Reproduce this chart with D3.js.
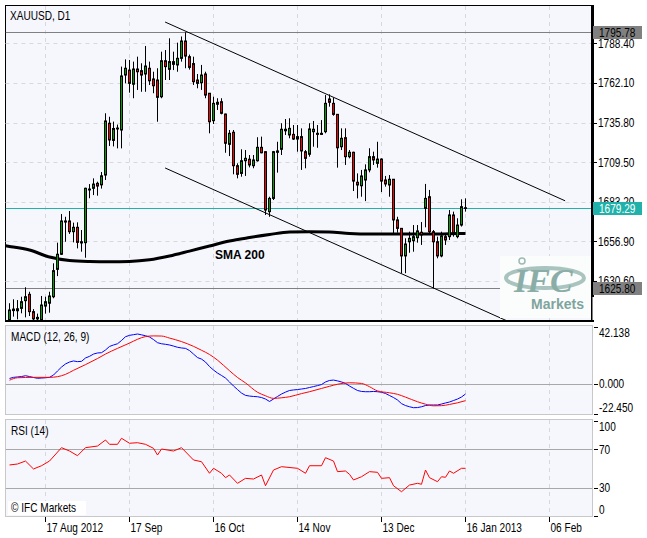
<!DOCTYPE html>
<html>
<head>
<meta charset="utf-8">
<script src="https://cdn.jsdelivr.net/npm/d3@7"></script>
<style>
body { margin: 0; background: #fff; }
text { font-family: "Liberation Sans", Arial, sans-serif; font-size: 12px; fill: #000; }
</style>
</head>
<body>
<script>

// daily bars, index 0 = 6 Aug 2012, index 114 = 16 Jan 2013
var open = [1605.0,1611.0,1610.9,1612.5,1617.6,1621.8,1610.3,1605.5,1605.0,1614.0,
  1615.9,1620.2,1638.4,1648.4,1670.5,1670.5,1663.4,1666.3,1656.7,1656.1,
  1691.1,1692.2,1695.5,1694.5,1701.0,1735.4,1724.0,1731.6,1730.9,1767.4,
  1770.7,1761.3,1771.4,1770.3,1768.1,1771.9,1764.8,1764.1,1753.0,1776.9,
  1771.2,1776.3,1774.1,1778.5,1790.0,1779.6,1775.0,1764.1,1762.3,1768.1,
  1755.3,1737.1,1748.0,1749.7,1741.5,1721.4,1729.4,1707.2,1702.1,1710.5,
  1711.5,1707.2,1710.5,1719.4,1716.5,1676.7,1685.5,1716.1,1718.1,1730.4,
  1727.6,1728.0,1724.9,1726.5,1716.5,1714.8,1729.8,1728.0,1728.7,1729.8,
  1751.5,1748.6,1741.3,1719.8,1725.8,1713.2,1716.1,1696.2,1693.9,1697.7,
  1704.4,1713.2,1708.8,1711.6,1697.7,1694.4,1698.2,1671.2,1665.6,1647.3,
  1656.7,1657.4,1659.4,1663.0,1678.9,1686.6,1663.4,1656.7,1647.3,1660.1,
  1660.1,1674.5,1660.1,1667.8,1678.8];
var high = [1615.9,1618.5,1618.0,1620.2,1626.5,1623.5,1612.0,1609.0,1620.7,1620.2,
  1623.5,1642.4,1656.1,1675.1,1673.3,1677.1,1669.4,1669.6,1664.5,1692.6,
  1695.0,1698.8,1696.6,1703.0,1742.0,1739.7,1736.5,1734.5,1773.0,1777.8,
  1777.4,1776.3,1779.6,1775.2,1786.7,1776.3,1769.6,1771.9,1782.9,1784.0,
  1791.8,1782.9,1788.9,1793.0,1795.78,1781.0,1779.6,1768.1,1774.1,1769.6,
  1755.5,1753.0,1752.0,1752.0,1741.8,1730.9,1730.9,1708.8,1718.1,1717.6,
  1714.3,1714.3,1726.1,1726.5,1716.8,1686.6,1717.0,1723.1,1735.4,1738.2,
  1738.7,1734.2,1734.2,1732.0,1717.6,1735.4,1736.9,1734.2,1737.5,1754.1,
  1754.6,1752.4,1741.5,1732.0,1732.0,1717.6,1716.5,1702.1,1704.4,1708.1,
  1718.8,1716.5,1723.1,1712.1,1700.4,1701.0,1698.4,1673.3,1665.8,1659.0,
  1663.4,1667.8,1667.8,1669.8,1695.1,1691.1,1664.5,1660.1,1663.4,1662.3,
  1677.8,1676.7,1672.3,1684.9,1685.5];
var low = [1604.3,1607.0,1605.2,1609.2,1606.5,1607.4,1604.2,1604.1,1604.5,1609.0,
  1609.6,1619.2,1633.9,1647.9,1656.7,1661.9,1656.3,1652.3,1650.1,1646.1,
  1685.6,1687.7,1687.3,1692.0,1697.7,1720.3,1720.0,1718.7,1718.7,1761.9,
  1755.7,1752.0,1757.5,1756.3,1756.3,1760.8,1755.3,1736.4,1752.0,1764.1,
  1764.1,1770.7,1769.6,1776.3,1771.9,1771.0,1760.8,1758.6,1757.5,1752.0,
  1728.7,1734.9,1744.2,1741.3,1715.8,1713.6,1701.5,1698.8,1699.9,1700.4,
  1706.1,1705.5,1709.9,1715.4,1674.5,1673.3,1684.4,1702.6,1714.3,1727.6,
  1725.4,1724.3,1716.5,1704.4,1705.5,1713.2,1719.8,1719.1,1727.6,1728.7,
  1746.4,1740.4,1705.9,1717.6,1707.7,1712.1,1690.4,1685.5,1686.6,1683.7,
  1702.8,1707.7,1705.9,1689.7,1693.3,1686.6,1662.3,1662.7,1635.8,1635.8,
  1649.4,1650.1,1656.1,1654.6,1666.3,1662.3,1625.8,1645.7,1646.4,1654.6,
  1657.9,1660.1,1659.0,1666.8,1676.7];
var close = [1611.4,1612.0,1612.2,1616.9,1620.2,1610.3,1605.5,1606.5,1614.7,1616.9,
  1620.7,1637.5,1648.4,1670.5,1669.8,1663.4,1666.3,1656.3,1655.9,1692.2,
  1691.7,1695.0,1693.7,1700.5,1736.9,1724.3,1731.9,1732.2,1766.8,1771.9,
  1761.9,1771.4,1769.6,1767.4,1773.4,1763.6,1760.3,1752.6,1776.9,1773.0,
  1776.3,1774.5,1778.5,1790.0,1780.0,1772.5,1763.0,1761.9,1767.4,1754.1,
  1736.4,1748.6,1749.3,1742.0,1722.1,1728.7,1707.2,1701.5,1710.5,1712.1,
  1707.7,1711.0,1719.4,1715.8,1677.8,1685.5,1716.5,1717.0,1731.4,1731.4,
  1732.0,1724.9,1726.5,1717.0,1712.1,1731.6,1731.4,1728.7,1728.0,1748.6,
  1749.3,1741.3,1719.1,1725.4,1713.2,1716.1,1697.0,1694.4,1700.4,1704.4,
  1713.2,1711.0,1711.6,1697.0,1695.1,1698.2,1671.2,1665.6,1647.3,1655.2,
  1659.0,1660.1,1663.9,1661.2,1685.5,1663.4,1656.7,1647.3,1660.6,1657.9,
  1674.5,1662.3,1667.8,1680.0,1679.29];

var smaIdx = [-1,0,5,10,15,20,25,30,35,40,45,50,55,60,65,70,75,80,85,90,95,100,105,110,114];
var smaVal = [1654.0,1653.6,1651.2,1646.6,1644.3,1643.6,1643.4,1643.6,1644.7,1647.2,1650.5,1653.9,1657.2,
  1659.5,1661.5,1663.2,1663.4,1663.2,1662.2,1661.8,1661.8,1661.8,1661.8,1662.0,1662.2];

// channel: [startIndex, startPrice, endIndex, endPrice]
var channelLines = [[38.9, 1802.6, 138.9, 1683.9], [38.9, 1705.7, 124.6, 1603.9]];

var macdMain = [3.8,4.6,4.9,5.2,5.8,5.2,4.5,3.9,4.1,4.3,
  4.6,6.3,9.3,12.2,14.5,15.9,16.7,16.2,16.4,18.9,
  20.1,21.8,22.6,22.8,24.8,27.4,28.5,29.4,31.8,34.6,
  35.6,36.1,36.6,36.0,35.3,34.4,32.5,30.2,29.4,29.0,
  28.5,27.7,26.8,26.3,26.0,24.4,21.8,19.2,18.1,15.9,
  12.6,10.0,7.8,6.0,4.1,1.2,-1.8,-4.4,-7.0,-8.7,
  -9.2,-9.5,-9.7,-10.3,-11.4,-13.2,-11.4,-9.5,-7.7,-6.3,
  -5.1,-4.7,-4.4,-4.0,-3.6,-2.9,-2.2,-1.5,-0.7,1.2,
  2.3,2.6,2.0,1.2,0.1,-1.8,-3.5,-5.1,-5.8,-6.0,
  -6.0,-5.8,-6.0,-6.4,-7.3,-8.8,-10.3,-12.1,-14.8,-16.2,
  -17.1,-17.8,-17.7,-17.1,-16.2,-15.8,-15.8,-15.8,-15.1,-14.3,
  -13.6,-12.5,-11.4,-9.9,-7.7];
var signalIdx = [0,2,6,10,12,14,16,19,22,24,27,30,32,34,36,38,40,43,46,48,
  50,52,55,57,59,62,64,66,68,70,73,75,78,80,82,85,88,90,92,95,
  97,99,102,104,106,108,110,112,114];
var signalVal = [2.5,4.3,4.6,4.6,5.1,6.8,9.8,14.0,18.5,21.8,26.0,29.9,32.7,34.7,35.2,35.1,33.6,31.0,27.5,24.6,
  21.5,17.3,9.5,4.5,0.5,-6.4,-9.0,-10.9,-10.5,-9.7,-7.4,-6.0,-3.6,-2.0,-0.5,0.6,0.1,-2.3,-5.4,-6.8,
  -7.9,-10.0,-13.4,-15.2,-16.4,-16.3,-15.4,-14.2,-12.6];

var rsiIdx = [0,2,4,6,8,10,13,15,17,19,22,24,25,27,28,30,32,34,36,37,38,41,43,46,48,50,51,53,54,55,
  57,59,61,63,64,66,68,72,74,75,78,79,81,82,84,85,86,88,90,92,93,95,96,98,100,102,103,104,105,107,
  108,109,110,111,113,114];
var rsiVal = [53.7,54.7,57.8,49.5,52.9,57.8,71.8,68.3,63.4,71.8,73.5,79.8,75.3,75.3,81.6,76.4,77.0,75.3,71.1,64.1,
  70.4,68.3,71.8,58.9,57.1,45.0,50.2,45.0,40.4,43.2,34.5,39.7,39.0,43.2,32.0,48.4,51.9,50.2,45.0,52.9,
  52.9,61.3,57.8,46.7,47.4,43.9,38.0,41.4,46.7,46.0,39.7,40.4,32.0,25.7,32.7,34.5,33.5,48.4,40.4,36.2,
  41.4,40.8,47.4,45.0,50.2,50.2];

var priceTicks = [1630.60, 1656.90, 1683.20, 1709.50, 1735.80, 1762.10, 1788.40];
var dateIdx = [9, 30, 51, 72, 93, 114, 135];
var dateLabels = ["17 Aug 2012", "17 Sep", "16 Oct", "14 Nov", "13 Dec", "16 Jan 2013", "06 Feb"];
var macdLabels = [42.138, 0, -22.450];
var rsiLabels = [100, 70, 30, 0];
var rsiLevels = [70, 30];
var highLine = 1795.78, lowLine = 1625.80, bidLine = 1679.29;

var width = 647, height = 538;
var narrow = 0.84;   // the terminal font is a narrow one
var main = { l: 5.5, t: 5.5, r: 591.5, b: 321 },
    macdP = { l: 5.5, t: 325.5, r: 592.5, b: 414.5 },
    rsiP = { l: 5.5, t: 419.5, r: 592.5, b: 516.5 };

var x = d3.scaleLinear().domain([0, 135]).range([9.5, 549.5]);
var yP = d3.scaleLinear().domain([lowLine, highLine]).range([288.3, 32.3]);
var yM = d3.scaleLinear().domain([-22.45, 42.138]).range([414, 326.5]);
var yR = d3.scaleLinear().domain([0, 100]).range([516.3, 420.7]);

var svg = d3.select("body").append("svg")
    .attr("width", width)
    .attr("height", height);

function put(xx, yy) { return "translate(" + xx + "," + yy + ") scale(" + narrow + ",1)"; }
function label(xx, yy, str) {
  return svg.append("text").attr("transform", put(xx, yy)).text(str);
}

var defs = svg.append("defs");
function clip(id, p) {
  defs.append("clipPath").attr("id", id).append("rect")
    .attr("x", p.l).attr("y", p.t).attr("width", p.r - p.l).attr("height", p.b - p.t);
}
clip("clipMain", main); clip("clipMacd", macdP); clip("clipRsi", rsiP);

// panel backgrounds
[[main, "#000"], [macdP, "#c8c8c8"], [rsiP, "#c8c8c8"]].forEach(function (d) {
  svg.append("rect")
    .attr("x", d[0].l).attr("y", d[0].t)
    .attr("width", d[0].r - d[0].l).attr("height", d[0].b - d[0].t)
    .attr("fill", "#f6f7fd").attr("stroke", d[1]).attr("stroke-width", 1);
});

// vertical dashed grid in every panel
[main, macdP, rsiP].forEach(function (p) {
  svg.append("g").selectAll("line").data(dateIdx).enter().append("line")
    .attr("x1", function (d) { return x(d); }).attr("x2", function (d) { return x(d); })
    .attr("y1", p.t + 0.5).attr("y2", p.b - 0.5)
    .attr("stroke", "#d6d8de").attr("stroke-dasharray", "4,4");
});

// horizontal dashed grid (price)
svg.append("g").selectAll("line").data(priceTicks).enter().append("line")
  .attr("x1", main.l).attr("x2", main.r)
  .attr("y1", function (d) { return Math.round(yP(d)) + 0.5; })
  .attr("y2", function (d) { return Math.round(yP(d)) + 0.5; })
  .attr("stroke", "#d6d8de").attr("stroke-dasharray", "4,4");

var plot = svg.append("g").attr("clip-path", "url(#clipMain)");

// high / low / bid lines
[[highLine, "#808080"], [lowLine, "#808080"], [bidLine, "#20b2aa"]].forEach(function (d) {
  plot.append("line")
    .attr("x1", main.l).attr("x2", main.r)
    .attr("y1", Math.round(yP(d[0])) + 0.5).attr("y2", Math.round(yP(d[0])) + 0.5)
    .attr("stroke", d[1]).attr("stroke-width", 1);
});

// logo
var logo = svg.append("g");
logo.append("rect").attr("x", 500).attr("y", 256).attr("width", 91).attr("height", 62)
  .attr("fill", "#fbfcfc");
logo.append("ellipse").attr("cx", 545).attr("cy", 278).attr("rx", 39).attr("ry", 10)
  .attr("fill", "none").attr("stroke", "#a9c3be").attr("stroke-width", 4);
logo.append("text").attr("x", 514).attr("y", 292)
  .style("font-family", "Liberation Serif, serif").style("font-size", "34px")
  .style("font-weight", "bold").style("font-style", "italic").style("fill", "#8aaea7")
  .text("IFC");
logo.append("circle").attr("cx", 522).attr("cy", 261).attr("r", 3)
  .attr("fill", "none").attr("stroke", "#9dbab4").attr("stroke-width", 1.5);
logo.append("text").attr("x", 531).attr("y", 309)
  .style("font-size", "14px").style("font-weight", "bold").style("fill", "#7fa49e")
  .text("Markets");

// SMA 200
var smaPts = smaIdx.map(function (d, i) { return [d, smaVal[i]]; });
plot.append("path").datum(smaPts)
  .attr("fill", "none").attr("stroke", "#000").attr("stroke-width", 3)
  .attr("d", d3.line().curve(d3.curveMonotoneX)
    .x(function (d) { return x(d[0]); })
    .y(function (d) { return yP(d[1]); }));

// channel lines
plot.selectAll(".chan").data(channelLines).enter().append("line")
  .attr("class", "chan")
  .attr("x1", function (d) { return x(d[0]); }).attr("y1", function (d) { return yP(d[1]); })
  .attr("x2", function (d) { return x(d[2]); }).attr("y2", function (d) { return yP(d[3]); })
  .attr("stroke", "#000").attr("stroke-width", 1);

// candles
var bars = d3.range(open.length);
var candle = plot.selectAll(".candle").data(bars).enter().append("g").attr("class", "candle");
candle.append("line")
  .attr("x1", function (i) { return x(i); }).attr("x2", function (i) { return x(i); })
  .attr("y1", function (i) { return yP(high[i]); }).attr("y2", function (i) { return yP(low[i]); })
  .attr("stroke", "#000").attr("stroke-width", 1);
candle.append("rect")
  .attr("x", function (i) { return x(i) - 1; })
  .attr("width", 2)
  .attr("y", function (i) { return yP(Math.max(open[i], close[i])); })
  .attr("height", function (i) { return Math.max(0.5, Math.abs(yP(open[i]) - yP(close[i]))); })
  .attr("fill", function (i) { return close[i] >= open[i] ? "#00a000" : "#ff0000"; })
  .attr("stroke", "#000").attr("stroke-width", 1);

svg.append("text").attr("x", 215).attr("y", 259)
  .style("font-weight", "bold")
  .text("SMA 200");

label(10, 20, "XAUUSD, D1");

// right border of main chart
svg.append("rect").attr("x", 591).attr("y", 5).attr("width", 3).attr("height", 292).attr("fill", "#000");
svg.append("rect").attr("x", 591).attr("y", 297).attr("width", 1.5).attr("height", 24).attr("fill", "#000");
svg.append("rect").attr("x", 5).attr("y", 320).attr("width", 589).attr("height", 2).attr("fill", "#000");

// price axis
var pAxis = svg.append("g");
pAxis.selectAll("line").data(priceTicks).enter().append("line")
  .attr("x1", 594).attr("x2", 597)
  .attr("y1", function (d) { return Math.round(yP(d)) + 0.5; })
  .attr("y2", function (d) { return Math.round(yP(d)) + 0.5; })
  .attr("stroke", "#000");
pAxis.selectAll("text").data(priceTicks).enter().append("text")
  .attr("transform", function (d) { return put(598, yP(d) + 4.3); })
  .text(function (d) { return d.toFixed(2); });

[[highLine, "#808080", "#000"], [bidLine, "#20b2aa", "#fff"], [lowLine, "#808080", "#000"]].forEach(function (d) {
  var yy = Math.round(yP(d[0]));
  svg.append("rect").attr("x", 593).attr("y", yy - 6).attr("width", 49).attr("height", 13).attr("fill", d[1]);
  label(599, yy + 4.8, d[0].toFixed(2)).style("fill", d[2]);
});

// MACD
var mg = svg.append("g").attr("clip-path", "url(#clipMacd)");
mg.append("line").attr("x1", macdP.l).attr("x2", macdP.r)
  .attr("y1", Math.round(yM(0)) + 0.5).attr("y2", Math.round(yM(0)) + 0.5)
  .attr("stroke", "#a8a8a8");
mg.append("path").datum(macdMain)
  .attr("fill", "none").attr("stroke", "#0000ff").attr("stroke-width", 1)
  .attr("d", d3.line().x(function (d, i) { return x(i); }).y(function (d) { return yM(d); }));
mg.append("path").datum(signalIdx.map(function (d, i) { return [d, signalVal[i]]; }))
  .attr("fill", "none").attr("stroke", "#ff0000").attr("stroke-width", 1)
  .attr("d", d3.line().curve(d3.curveMonotoneX)
    .x(function (d) { return x(d[0]); }).y(function (d) { return yM(d[1]); }));
label(11, 341, "MACD (12, 26, 9)");

svg.selectAll(".mtick").data(macdLabels).enter().append("line").attr("class", "mtick")
  .attr("x1", 594).attr("x2", 598)
  .attr("y1", function (d) { return Math.round(yM(d)) + 0.5; })
  .attr("y2", function (d) { return Math.round(yM(d)) + 0.5; })
  .attr("stroke", "#000");
svg.selectAll(".mlab").data(macdLabels).enter().append("text").attr("class", "mlab")
  .attr("transform", function (d, i) {
    return put(599, yM(d) + (i === 0 ? 10 : (i === 2 ? -2 : 4.3)));
  })
  .text(function (d) { return d.toFixed(3); });

// RSI
var rg = svg.append("g").attr("clip-path", "url(#clipRsi)");
rg.selectAll("line").data(rsiLevels).enter().append("line")
  .attr("x1", rsiP.l).attr("x2", rsiP.r)
  .attr("y1", function (d) { return Math.round(yR(d)) + 0.5; })
  .attr("y2", function (d) { return Math.round(yR(d)) + 0.5; })
  .attr("stroke", "#a8a8a8");
rg.append("path").datum(rsiIdx.map(function (d, i) { return [d, rsiVal[i]]; }))
  .attr("fill", "none").attr("stroke", "#ff0000").attr("stroke-width", 1)
  .attr("d", d3.line().x(function (d) { return x(d[0]); }).y(function (d) { return yR(d[1]); }));
label(11, 435, "RSI (14)");

svg.selectAll(".rtick").data(rsiLabels).enter().append("line").attr("class", "rtick")
  .attr("x1", 594).attr("x2", 598)
  .attr("y1", function (d) { return Math.round(yR(d)) + 0.5; })
  .attr("y2", function (d) { return Math.round(yR(d)) + 0.5; })
  .attr("stroke", "#000");
svg.selectAll(".rlab").data(rsiLabels).enter().append("text").attr("class", "rlab")
  .attr("transform", function (d, i) {
    return put(599, yR(d) + (i === 0 ? 10 : (i === 3 ? -2 : 4.3)));
  })
  .text(function (d) { return d; });

svg.append("rect").attr("x", 8).attr("y", 501).attr("width", 78).attr("height", 14).attr("fill", "#fff");
label(11, 512, "\u00a9  IFC Markets");

// time axis
svg.selectAll(".dtick").data(dateIdx).enter().append("line").attr("class", "dtick")
  .attr("x1", function (d) { return x(d); }).attr("x2", function (d) { return x(d); })
  .attr("y1", 517).attr("y2", 522).attr("stroke", "#000");
svg.selectAll(".dlab").data(dateIdx).enter().append("text").attr("class", "dlab")
  .attr("transform", function (d) { return put(x(d) + 1, 532); })
  .text(function (d, i) { return dateLabels[i]; });

</script>
</body>
</html>
